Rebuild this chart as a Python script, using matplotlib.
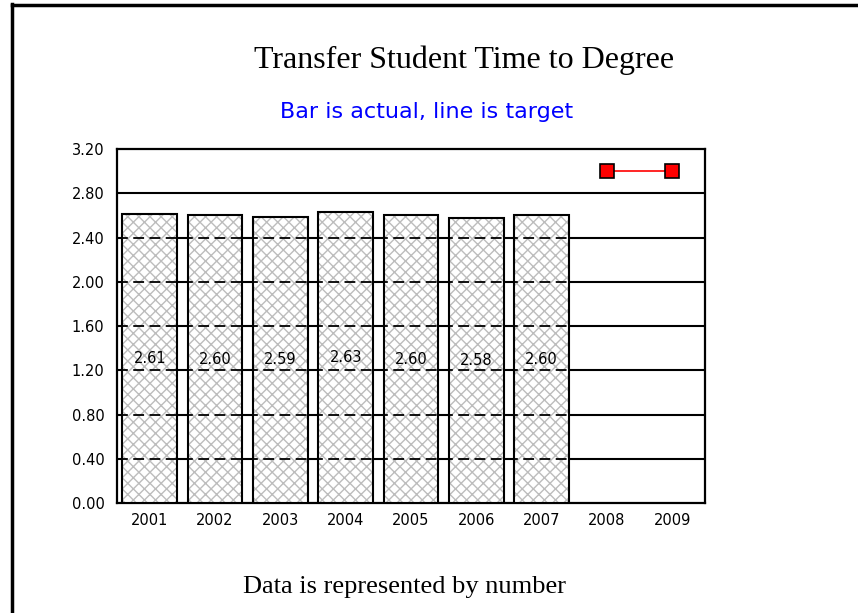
import numpy as np
import matplotlib.pyplot as plt
from matplotlib.lines import Line2D

years = ['2001', '2002', '2003', '2004', '2005', '2006', '2007', '2008', '2009']
actual = [2.61, 2.60, 2.59, 2.63, 2.60, 2.58, 2.60]
target_years = ['2008', '2009']
target = [3.00, 3.00]
yticks = [0.0, 0.4, 0.8, 1.2, 1.6, 2.0, 2.4, 2.8, 3.2]

plt.rcParams['hatch.linewidth'] = 1.0

fig = plt.figure(figsize=(8.58, 6.13), dpi=100)
ax = fig.add_axes([0.1364, 0.1794, 0.6853, 0.5775])

x = np.arange(len(years))
xa = x[:len(actual)]

# grid: solid everywhere, dashed on top of the bars
for y in yticks[1:-1]:
    ax.axhline(y, color='black', lw=1.5, zorder=1)
    ax.axhline(y, color='black', lw=1.3, ls=(0, (6, 3)), zorder=4)

# hatch in grey (hatch takes the edge colour), outline in black on top
ax.bar(xa, actual, width=0.84, color='white', edgecolor='#bdbdbd', lw=0,
       hatch='xxx', zorder=3)
ax.bar(xa, actual, width=0.84, fill=False, edgecolor='black', lw=1.5, zorder=4.5)
for xi, v in zip(xa, actual):
    ax.text(xi, v / 2, '%.2f' % v, ha='center', va='center', fontsize=10.5,
            family='DejaVu Sans', zorder=5)

xt = [years.index(t) for t in target_years]
ax.plot(xt, target, color='red', lw=1.2, marker='s', markersize=9.5,
        markerfacecolor='red', markeredgecolor='black', markeredgewidth=1.2, zorder=6)

ax.set_xlim(-0.5, len(years) - 0.5)
ax.set_ylim(0, 3.2)
ax.set_xticks(x)
ax.set_xticklabels(years, family='DejaVu Sans', fontsize=10.5)
ax.set_yticks(yticks)
ax.set_yticklabels(['%.2f' % t for t in yticks], family='DejaVu Sans', fontsize=10.5)
ax.tick_params(axis='y', length=0, pad=9)
ax.tick_params(axis='x', length=0, pad=7)
for s in ax.spines.values():
    s.set_linewidth(1.6)

fig.text(0.541, 0.902, 'Transfer Student Time to Degree', ha='center', va='center',
         family='Liberation Serif', fontsize=23)
fig.text(0.497, 0.817, 'Bar is actual, line is target', ha='center', va='center',
         family='DejaVu Sans', fontsize=16, color='#0000ff')
fig.text(0.472, 0.042, 'Data is represented by number', ha='center', va='center',
         family='Liberation Serif', fontsize=19)

# page frame (left and top edges)
fig.add_artist(Line2D([0.0145, 0.0145], [0, 0.993], color='black', lw=2.5,
                      transform=fig.transFigure))
fig.add_artist(Line2D([0.0145, 1.0], [0.992, 0.992], color='black', lw=2.5,
                      transform=fig.transFigure))

fig.savefig('out.png', dpi=100)
